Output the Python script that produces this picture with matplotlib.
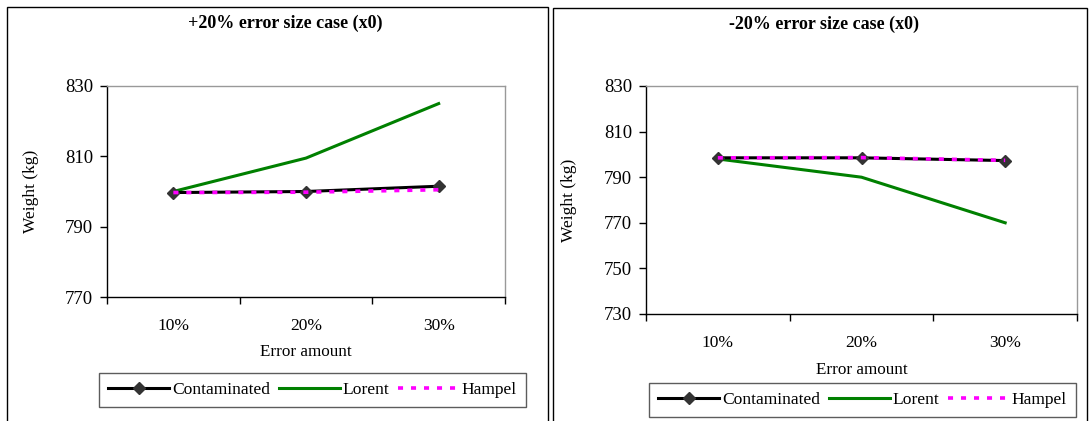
import matplotlib
matplotlib.use("Agg")
import matplotlib.pyplot as plt
from matplotlib.patches import Rectangle

plt.rcParams['font.family'] = ['Liberation Serif', 'DejaVu Serif']

categories = ['10%', '20%', '30%']

# +20% error size case
plus_contaminated = [799.7, 800.0, 801.5]
plus_lorent = [800.0, 809.5, 825.0]
plus_hampel = [799.7, 799.8, 800.5]

# -20% error size case
minus_contaminated = [798.5, 798.5, 797.3]
minus_lorent = [798.0, 790.0, 770.0]
minus_hampel = [798.5, 798.6, 797.4]

W, H = 1091, 421
fig = plt.figure(figsize=(W / 100, H / 100), dpi=100)


def px_axes(x0, y0, x1, y1):
    return fig.add_axes([x0 / W, 1 - y1 / H, (x1 - x0) / W, (y1 - y0) / H])


def panel(box, plot, title, title_x, title_y, ylim, yticks, xlabel_y, ylabel_x,
          legend_box, contaminated, lorent, hampel):
    bx0, by0, bx1, by1 = box
    fig.add_artist(Rectangle((bx0 / W, 1 - by1 / H), (bx1 - bx0) / W, (by1 - by0) / H,
                             transform=fig.transFigure, fill=False,
                             edgecolor='black', linewidth=1.0))
    fig.text(title_x / W, 1 - title_y / H, title, ha='center',
             va='center', fontsize=13, fontweight='bold')

    ax = px_axes(*plot)
    x = range(len(categories))
    ax.plot(x, contaminated, color='black', linewidth=2.2, marker='D',
            markersize=6.5, markerfacecolor='#333333', markeredgecolor='#333333',
            label='Contaminated', zorder=3)
    ax.plot(x, lorent, color='#008000', linewidth=2.2, label='Lorent', zorder=2)
    ax.plot(x, hampel, color='#ff00ff', linewidth=2.6, linestyle=(0, (1.4, 2.2)),
            label='Hampel', zorder=4)

    ax.set_xlim(-0.5, len(categories) - 0.5)
    ax.set_ylim(*ylim)
    ax.set_yticks(yticks)
    ax.set_xticks([i - 0.5 for i in range(len(categories) + 1)], minor=False)
    ax.set_xticklabels([])
    ax.set_xticks(list(x), minor=True)
    ax.set_xticklabels(categories, minor=True, fontsize=12.5)
    ax.tick_params(axis='x', which='major', direction='out', length=5, width=1,
                   color='black')
    ax.tick_params(axis='x', which='minor', length=0, pad=15)
    ax.tick_params(axis='y', direction='out', length=5, width=1, labelsize=13.5,
                   pad=5)
    for s in ('left', 'bottom'):
        ax.spines[s].set_color('black')
        ax.spines[s].set_linewidth(1.0)
    for s in ('top', 'right'):
        ax.spines[s].set_color('#999999')
        ax.spines[s].set_linewidth(1.0)

    fig.text((plot[0] + plot[2]) / 2 / W, 1 - xlabel_y / H, 'Error amount',
             ha='center', va='center', fontsize=12.3)
    fig.text(ylabel_x / W, 1 - (plot[1] + plot[3]) / 2 / H, 'Weight (kg)',
             ha='center', va='center', rotation=90, fontsize=12.5)

    lx0, ly0, lx1, ly1 = legend_box
    handles, labels = ax.get_legend_handles_labels()
    leg = fig.legend(handles, labels, ncol=3, loc='center',
                     bbox_to_anchor=((lx0 + lx1) / 2 / W, 1 - (ly0 + ly1) / 2 / H),
                     frameon=True, fancybox=False, fontsize=12.6,
                     handlelength=3.5, handletextpad=0.15, columnspacing=0.5,
                     borderpad=0.5, borderaxespad=0)
    leg.get_frame().set_edgecolor('#333333')
    leg.get_frame().set_linewidth(1.0)
    return ax


panel(box=(7, 7, 548, 440), plot=(107, 86, 505, 297),
      title='+20% error size case (x0)', title_x=285, title_y=23,
      ylim=(770, 830), yticks=[770, 790, 810, 830],
      xlabel_y=352, ylabel_x=31, legend_box=(98, 373, 527, 407),
      contaminated=plus_contaminated, lorent=plus_lorent, hampel=plus_hampel)

panel(box=(553, 8, 1087, 440), plot=(646, 86, 1077, 314),
      title='-20% error size case (x0)', title_x=824, title_y=24,
      ylim=(730, 830), yticks=[730, 750, 770, 790, 810, 830],
      xlabel_y=370, ylabel_x=569, legend_box=(644, 384, 1081, 416),
      contaminated=minus_contaminated, lorent=minus_lorent, hampel=minus_hampel)

fig.savefig('out.png', dpi=100)
